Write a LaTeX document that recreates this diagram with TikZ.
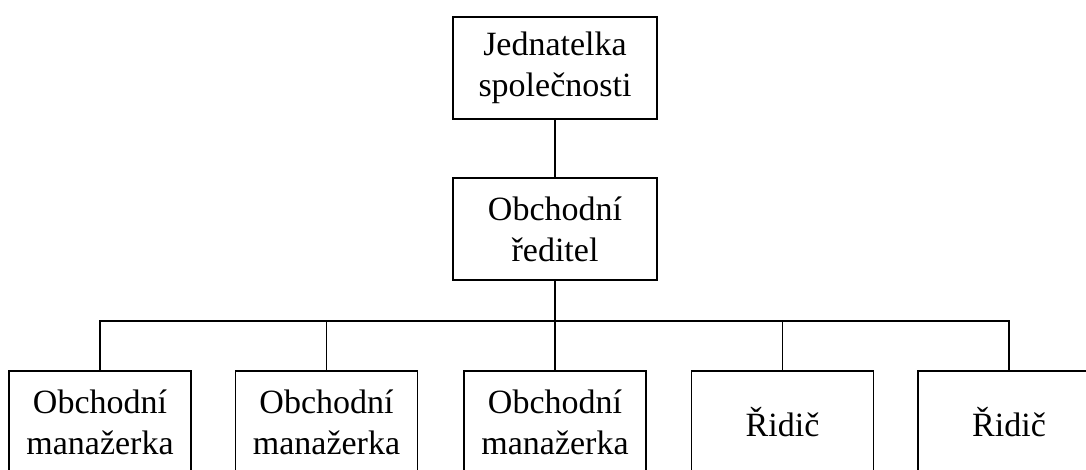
\documentclass[tikz,border=0pt]{standalone}
\usepackage{fontspec}
\setmainfont{Liberation Serif}
\begin{document}
\begin{tikzpicture}[x=1pt,y=-1pt,
  box/.style={draw=black,line width=1.6pt,rectangle,minimum height=102pt,inner sep=0pt,align=center,font=\fontsize{34}{41}\selectfont},
  wide/.style={box,minimum width=204pt},
  narrow/.style={box,minimum width=182pt},
  conn/.style={draw=black,line width=1.6pt}]
\useasboundingbox (0,0) rectangle (1086,469);
\clip (0,0) rectangle (1086,469);
\node[wide] (top) at (555,68) {Jednatelka\\společnosti};
\node[wide] (mid) at (555,229) {Obchodní\\ředitel};
\node[narrow] (b1) at (100,422) {Obchodní\\manažerka};
\node[narrow] (b2) at (326.5,422) {Obchodní\\manažerka};
\node[narrow] (b3) at (555,422) {Obchodní\\manažerka};
\node[narrow] (b4) at (782.5,422) {Řidič};
\node[narrow] (b5) at (1009,422) {Řidič};
\coordinate (bus) at (555,321);
\draw[conn] (top) -- (mid);
\draw[conn] (mid) -- (b3);
\draw[conn] (b1.north) |- (bus);
\draw[conn] (b2.north) |- (bus);
\draw[conn] (b4.north) |- (bus);
\draw[conn] (b5.north) |- (bus);
\end{tikzpicture}
\end{document}
